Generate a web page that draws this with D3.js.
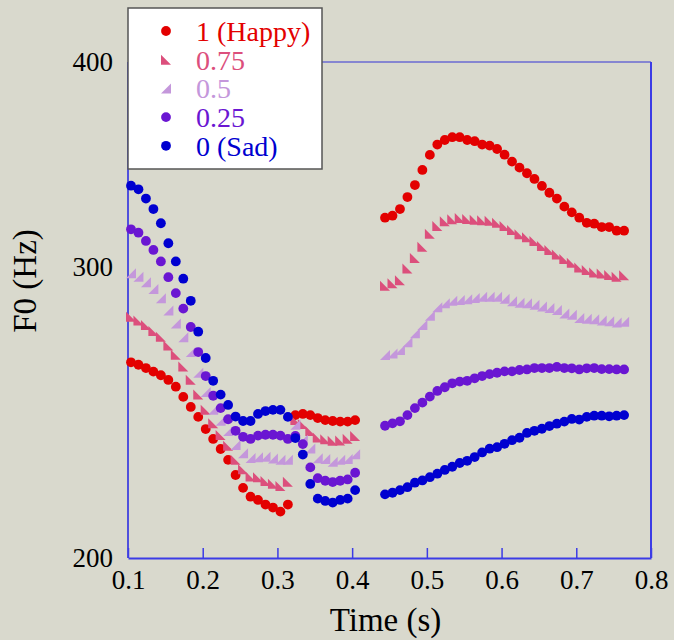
<!DOCTYPE html>
<html>
<head>
<meta charset="utf-8">
<script src="https://cdn.jsdelivr.net/npm/d3@7"></script>
<style>
  body { margin: 0; background: #d9d9cd; }
  svg { display: block; }
  text { font-family: "Liberation Serif", "Times New Roman", serif; }
</style>
</head>
<body>
<div id="chart"></div>
<script>
// time points (s) for the two voiced parts
var timeLeft = [0.104,0.114,0.124,0.134,0.144,0.154,0.164,0.174,0.184,0.194,0.204,0.214,0.224,0.234,0.244,0.254,0.264,0.274,0.284,0.294,0.304,0.314,0.324,0.334,0.344,0.354,0.364,0.374,0.384,0.394,0.404];
var timeRight = [0.444,0.454,0.464,0.474,0.484,0.494,0.504,0.514,0.524,0.534,0.544,0.554,0.564,0.574,0.584,0.594,0.604,0.614,0.624,0.634,0.644,0.654,0.664,0.674,0.684,0.694,0.704,0.714,0.724,0.734,0.744,0.754,0.764];

// F0 values (Hz)
var happyLeft = [262.9,262.0,260.8,259.5,258.2,256.5,254.1,250.5,247.0,243.6,239.5,236.2,232.9,229.4,224.6,220.6,217.9,216.9,215.5,214.6,213.4,215.5,244.2,244.6,244.2,243.2,242.5,242.2,242.0,242.0,242.5];
var happyRight = [321.8,322.7,325.7,331.2,336.8,344.0,351.3,356.4,358.7,360.1,360.1,358.7,358.1,356.4,355.9,354.2,351.4,348.0,345.1,342.4,339.7,336.4,333.2,330.5,326.8,324.2,321.8,319.5,319.1,317.6,317.6,316.0,316.0];
var p75Left = [280.2,278.7,277.0,274.7,272.5,269.2,265.7,261.4,256.6,251.3,246.0,241.4,237.5,234.0,229.4,226.4,224.1,223.9,222.7,221.9,221.2,222.5,242.5,241.2,238.8,236.7,236.1,235.6,235.7,236.3,237.2];
var p75Right = [292.6,293.6,294.8,299.7,304.2,309.0,314.7,318.1,320.2,321.1,321.6,321.2,320.9,320.6,320.4,319.5,318.1,316.3,314.4,313.1,311.5,309.3,307.6,305.7,303.7,302.2,300.1,299.1,298.1,297.6,297.0,296.3,296.9];
var p50Left = [297.7,296.3,294.0,291.3,287.5,282.6,277.6,272.3,266.7,259.1,252.2,246.0,242.3,238.8,234.2,231.5,230.0,230.2,230.4,229.8,229.4,229.4,240.9,235.9,233.1,229.9,229.7,228.8,229.4,229.7,231.2];
var p50Right = [265.6,266.2,267.5,270.4,273.8,277.0,280.6,283.9,285.5,286.5,286.8,287.1,287.6,288.1,288.1,288.1,287.3,286.3,285.7,285.5,284.9,284.2,283.6,282.8,281.5,281.0,279.7,279.4,279.2,278.7,278.4,277.9,278.2];
var p25Left = [316.6,315.1,311.5,307.6,302.7,296.1,289.6,283.4,276.2,266.7,257.9,250.9,246.6,242.8,238.9,236.9,236.2,237.3,237.6,237.6,237.3,236.2,237.2,234.5,227.0,223.6,222.8,222.4,222.8,223.2,225.3];
var p25Right = [240.6,241.4,242.1,244.2,246.6,248.5,250.6,252.6,253.9,255.3,255.9,256.2,257.1,257.9,258.6,259.1,259.6,259.6,260.1,260.3,260.8,260.8,260.8,261.2,260.8,260.7,260.3,260.7,260.8,260.4,260.4,260.3,260.3];
var sadLeft = [336.5,334.8,330.5,325.7,319.3,310.5,302.7,295.5,286.5,274.4,264.5,256.2,251.3,247.7,243.7,242.2,242.2,244.6,245.6,246.0,246.0,243.6,236.5,231.1,221.8,217.3,216.6,216.1,216.9,217.3,219.9];
var sadRight = [218.6,219.1,219.9,220.8,222.2,222.9,223.9,225.0,226.2,227.2,228.4,229.1,230.3,231.8,233.0,233.5,234.6,235.8,236.6,238.2,238.9,239.6,240.5,241.3,242.0,242.9,242.7,243.6,244.0,244.0,243.8,244.0,244.2];

var xTicks = [0.1,0.2,0.3,0.4,0.5,0.6,0.7,0.8];
var yTicks = [200,300,400];

var series = [
  {name: "1 (Happy)", color: "#e30000", shape: "dot", left: happyLeft, right: happyRight},
  {name: "0.75", color: "#dc4f7c", shape: "triL", left: p75Left, right: p75Right},
  {name: "0.5", color: "#c497db", shape: "triR", left: p50Left, right: p50Right},
  {name: "0.25", color: "#6a16d2", shape: "dot", left: p25Left, right: p25Right},
  {name: "0 (Sad)", color: "#0000d0", shape: "dot", left: sadLeft, right: sadRight}
];

var width = 674, height = 640;
var margin = {left: 128, right: 23, top: 62, bottom: 82};

var svg = d3.select("#chart").append("svg")
    .attr("width", width)
    .attr("height", height);

var x = d3.scaleLinear().domain([0.1, 0.8]).range([margin.left, width - margin.right]);
var y = d3.scaleLog().domain([200, 400]).range([height - margin.bottom, margin.top]);

var axisColor = "#3c3ce6";

// frame
svg.append("line")
    .attr("x1", x(0.1)).attr("x2", x(0.8))
    .attr("y1", y(400)).attr("y2", y(400))
    .attr("stroke", "#6a6ad2").attr("stroke-width", 1.5);
svg.append("line")
    .attr("x1", x(0.8)).attr("x2", x(0.8))
    .attr("y1", y(400)).attr("y2", y(200))
    .attr("stroke", axisColor).attr("stroke-width", 2);
svg.append("line")
    .attr("x1", x(0.1)).attr("x2", x(0.1))
    .attr("y1", y(400)).attr("y2", y(200))
    .attr("stroke", "#5050dc").attr("stroke-width", 2);

// bottom axis, ticks pointing in
var xAxis = svg.append("g")
    .attr("transform", "translate(0," + y(200) + ")")
    .call(d3.axisBottom(x).tickValues(xTicks).tickSizeInner(-10).tickSizeOuter(0).tickPadding(12)
      .tickFormat(d3.format(".1f")));
xAxis.select(".domain").attr("stroke", axisColor).attr("stroke-width", 2);
xAxis.selectAll(".tick line").attr("stroke", axisColor).attr("stroke-width", 1.5);
xAxis.selectAll(".tick text")
    .attr("fill", "#000")
    .style("font-family", "'Liberation Serif', serif")
    .style("font-size", "27px");

// left axis labels only
var yAxis = svg.append("g")
    .attr("transform", "translate(" + x(0.1) + ",0)")
    .call(d3.axisLeft(y).tickValues(yTicks).tickSize(0).tickPadding(15).tickFormat(d3.format("d")));
yAxis.select(".domain").remove();
yAxis.selectAll(".tick text")
    .attr("fill", "#000")
    .attr("dy", "0.3em")
    .style("font-family", "'Liberation Serif', serif")
    .style("font-size", "27px");

// axis titles
svg.append("text")
    .attr("x", (x(0.1) + x(0.8)) / 2 - 4)
    .attr("y", 631)
    .attr("text-anchor", "middle")
    .attr("font-size", 33)
    .text("Time (s)");
svg.append("text")
    .attr("transform", "translate(36," + 281 + ") rotate(-90)")
    .attr("text-anchor", "middle")
    .attr("font-size", 33)
    .text("F0 (Hz)");

function drawMarker(g, shape, color, cx, cy) {
  var h = 5;
  if (shape == "dot") {
    g.append("circle").attr("cx", cx).attr("cy", cy).attr("r", 4.9).attr("fill", color);
  } else if (shape == "triL") {
    g.append("path")
      .attr("d", "M" + (cx - h) + "," + (cy - h) + "L" + (cx - h) + "," + (cy + h) + "L" + (cx + h) + "," + (cy + h) + "Z")
      .attr("fill", color);
  } else {
    g.append("path")
      .attr("d", "M" + (cx + h) + "," + (cy - h) + "L" + (cx + h) + "," + (cy + h) + "L" + (cx - h) + "," + (cy + h) + "Z")
      .attr("fill", color);
  }
}

var marks = svg.append("g");
series.forEach(function(s) {
  var g = marks.append("g");
  for (var i = 0; i < timeLeft.length; i++) {
    drawMarker(g, s.shape, s.color, x(timeLeft[i]), y(s.left[i]));
  }
  for (var j = 0; j < timeRight.length; j++) {
    drawMarker(g, s.shape, s.color, x(timeRight[j]), y(s.right[j]));
  }
});

// legend
var legend = svg.append("g");
legend.append("rect")
    .attr("x", 128).attr("y", 8)
    .attr("width", 194).attr("height", 161)
    .attr("fill", "#fff")
    .attr("stroke", "#555").attr("stroke-width", 1.5);
series.forEach(function(s, i) {
  var ly = 31 + i * 28.7;
  drawMarker(legend, s.shape, s.color, 166, ly);
  legend.append("text")
      .attr("x", 196)
      .attr("y", ly + 10)
      .attr("font-size", 28)
      .attr("fill", s.color)
      .text(s.name);
});
</script>
</body>
</html>
